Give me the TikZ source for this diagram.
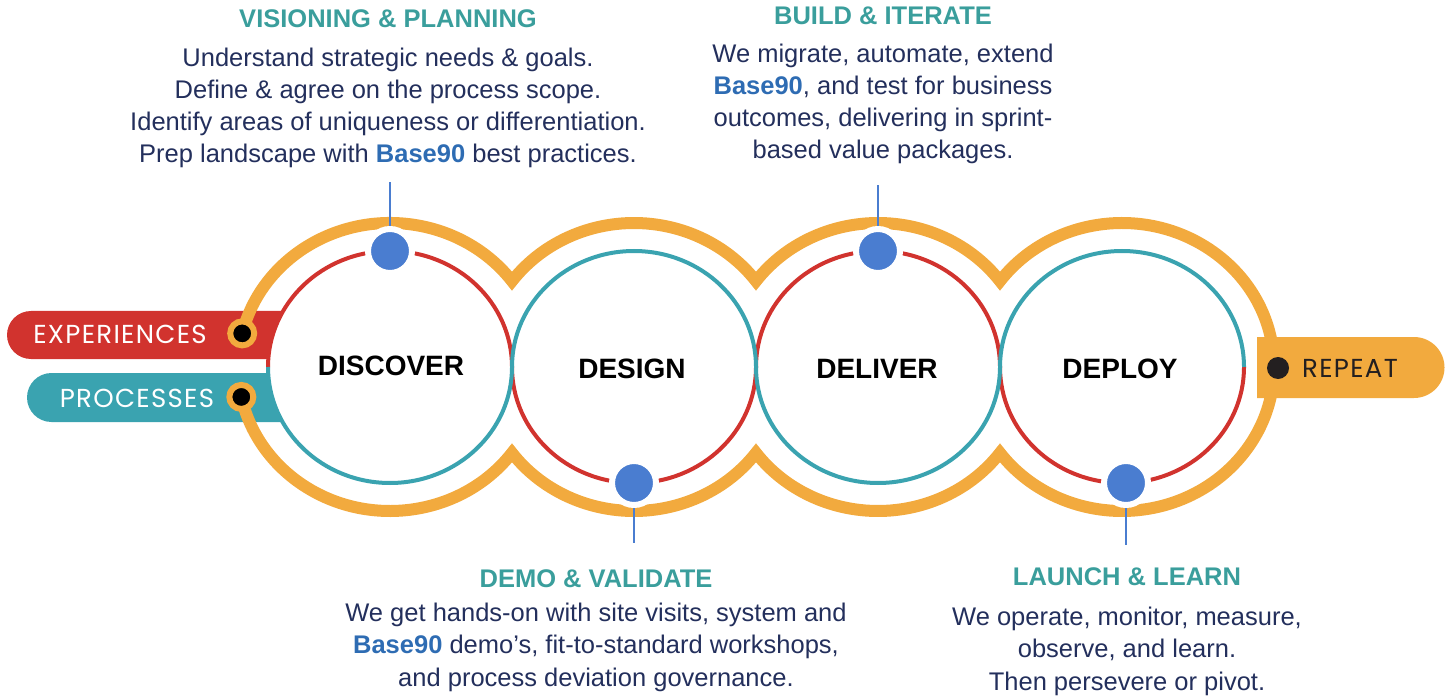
\documentclass[tikz,border=0pt]{standalone}
\usepackage{fontspec}
\setmainfont{Liberation Sans}
\newfontfamily\tagfont[LetterSpace=5]{Poppins}
\usetikzlibrary{calc,positioning}

\definecolor{loopgold}{HTML}{F2AA3E}
\definecolor{loopred}{HTML}{D1332E}
\definecolor{loopteal}{HTML}{3AA3B0}
\definecolor{pinblue}{HTML}{4A7DD0}
\definecolor{headteal}{HTML}{3A9E9C}
\definecolor{bodynavy}{HTML}{232F5C}
\definecolor{brandblue}{HTML}{2E6CB3}
\definecolor{dotblack}{HTML}{231F20}

\def\halfloop[#1](#2)(#3:#4){\draw[#1] ($(#2)+(#3:122pt and 116pt)$) arc[start angle=#3, end angle=#4, x radius=122pt, y radius=116pt];}
\newcommand{\brand}{\textbf{\textcolor{brandblue}{Base90}}}

\tikzset{
  stagehead/.style={font=\fontsize{25.5}{28}\selectfont\bfseries, text=headteal, inner sep=0pt, anchor=base},
  stagebody/.style={font=\fontsize{25.5}{32.3}\selectfont, text=bodynavy, align=center, inner sep=0pt, anchor=base},
  phase/.style={font=\fontsize{28}{32}\selectfont\bfseries, text=black, inner sep=0pt, anchor=base},
  pin/.style={circle, fill=pinblue, draw=white, line width=6pt, minimum size=44pt, inner sep=0pt},
  pinline/.style={pinblue, line width=2pt},
  tagdot/.style={circle, fill=black, draw=loopgold, line width=6pt, minimum size=24pt, inner sep=0pt},
  tagtext/.style={font=\tagfont\fontsize{26}{30}\selectfont, text=white, inner sep=0pt, anchor=base},
}

\begin{document}
\begin{tikzpicture}[x=1pt,y=1pt]
		\useasboundingbox (0,0) rectangle (1455,697);
		%%%%% START %%%%%
		
		\coordinate (c1) at (390,330);
		\coordinate (c2) at (634,330);
		\coordinate (c3) at (878,330);
		\coordinate (c4) at (1122,330);
		
		% tabs on the left
		\fill[loopred] (330,338) -- (31,338) arc[start angle=270, end angle=90, radius=24pt] -- (330,386) -- cycle;
		\fill[loopteal] (330,275) -- (51.5,275) arc[start angle=270, end angle=90, radius=24.5pt] -- (330,324) -- cycle;
		\fill[white] (c1) ellipse[x radius=122pt, y radius=116pt];
		
		% inner loops
		\halfloop[loopred, line width=4pt](c1)(180:0)
		\halfloop[loopred, line width=4pt](c2)(180:360)
		\halfloop[loopred, line width=4pt](c3)(180:0)
		\halfloop[loopred, line width=4pt](c4)(180:360)
		\halfloop[loopteal, line width=4pt](c1)(180:360)
		\halfloop[loopteal, line width=4pt](c2)(180:0)
		\halfloop[loopteal, line width=4pt](c3)(180:360)
		\halfloop[loopteal, line width=4pt](c4)(180:0)
		
		% outer band
		\pgfmathsetmacro{\cusp}{acos(122/152)}
		\draw[loopgold, line width=12pt] ($(c1)+(166.5:152pt and 144pt)$) coordinate (expend)
			arc[start angle=166.5, end angle=\cusp, x radius=152pt, y radius=144pt]
			arc[start angle=180-\cusp, end angle=\cusp, x radius=152pt, y radius=144pt]
			arc[start angle=180-\cusp, end angle=\cusp, x radius=152pt, y radius=144pt]
			arc[start angle=180-\cusp, end angle=\cusp-180, x radius=152pt, y radius=144pt]
			arc[start angle=-\cusp, end angle=\cusp-180, x radius=152pt, y radius=144pt]
			arc[start angle=-\cusp, end angle=\cusp-180, x radius=152pt, y radius=144pt]
			arc[start angle=-\cusp, end angle=-168, x radius=152pt, y radius=144pt] coordinate (procend);
		
		% repeat tab
		\fill[loopgold] (1257,299) -- (1414,299) arc[start angle=-90, end angle=90, radius=30.5pt] -- (1257,360) -- cycle;
		
		\node[tagdot] (expdot) at (expend) {};
		\node[tagdot] (procdot) at (procend) {};
		\node[circle, fill=dotblack, minimum size=22pt, inner sep=0pt] (repdot) at (1278,329) {};
		
		\node[tagtext] (exptext) at (120,354) {EXPERIENCES};
		\node[tagtext] (proctext) at (137,290) {PROCESSES};
		\node[tagtext, text=dotblack] (reptext) at (1350,320) {REPEAT};
		
		\node[phase] (discover) at (391,322) {DISCOVER};
		\node[phase] (design) at (632,319) {DESIGN};
		\node[phase] (deliver) at (877,319) {DELIVER};
		\node[phase] (deploy) at (1120,319) {DEPLOY};
		
		% pins and their leaders
		\coordinate (visat) at ($(c1)+(0,116)$);
		\coordinate (buildat) at ($(c3)+(0,116)$);
		\coordinate (demoat) at ($(c2)+(0,-116)$);
		\coordinate (launchat) at (1126,214);
		\coordinate (vistip) at (390,515);
		\coordinate (buildtip) at (878,512);
		\coordinate (demotip) at (634,154);
		\coordinate (launchtip) at (1126,152);
		\draw[pinline] (visat) -- (vistip);
		\draw[pinline] (buildat) -- (buildtip);
		\draw[pinline] (demoat) -- (demotip);
		\draw[pinline] (launchat) -- (launchtip);
		\node[pin] (vispin) at (visat) {};
		\node[pin] (buildpin) at (buildat) {};
		\node[pin] (demopin) at (demoat) {};
		\node[pin] (launchpin) at (launchat) {};
		
		% texts (multi-line nodes sit on their last line)
		\node[stagehead] (vishead) at (388,669) {VISIONING \& PLANNING};
		\node[stagebody] (visbody) at (388,534) {Understand strategic needs \& goals.\\Define \& agree on the process scope.\\Identify areas of uniqueness or differentiation.\\Prep landscape with \brand{} best practices.};
		
		\node[stagehead] (buildhead) at (883,672) {BUILD \& ITERATE};
		\node[stagebody] (buildbody) at (883,538) {We migrate, automate, extend\\\brand, and test for business\\outcomes, delivering in sprint-\\based value packages.};
		
		\node[stagehead] (demohead) at (596,110) {DEMO \& VALIDATE};
		\node[stagebody] (demobody) at (596,11) {We get hands-on with site visits, system and\\\brand{} demo's, fit-to-standard workshops,\\and process deviation governance.};
		
		\node[stagehead] (launchhead) at (1127,112) {LAUNCH \& LEARN};
		\node[stagebody] (launchbody) at (1127,7) {We operate, monitor, measure,\\observe, and learn.\\Then persevere or pivot.};
		
		%%%%% END %%%%%
	\end{tikzpicture}
\end{document}
